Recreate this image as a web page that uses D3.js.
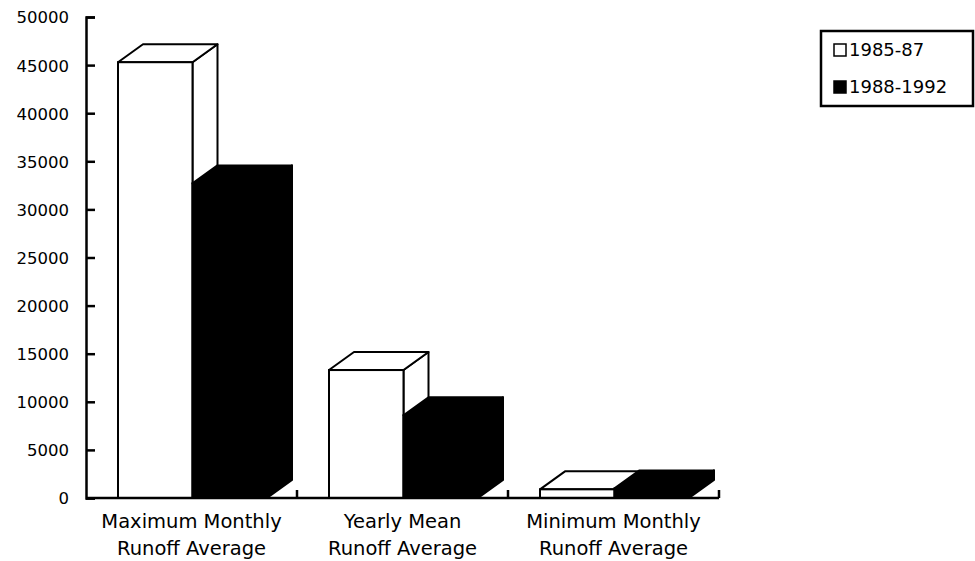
<!DOCTYPE html>
<html lang="en">
<head>
<meta charset="utf-8">
<title>Runoff Average</title>
<script src="https://d3js.org/d3.v7.min.js"></script>
<style>
  html, body { margin: 0; padding: 0; background: #fff; }
  svg text { font-family: "DejaVu Sans", sans-serif; fill: #000; }
</style>
</head>
<body>
<div id="chart"></div>
<script>
// chart data
var categories = [["Maximum Monthly", "Runoff Average"], ["Yearly Mean", "Runoff Average"], ["Minimum Monthly", "Runoff Average"]];
var series = ["1985-87", "1988-1992"];
var values1985 = [45300, 13300, 900];
var values1988 = [32700, 8600, 1000];
var yTicks = [0, 5000, 10000, 15000, 20000, 25000, 30000, 35000, 40000, 45000, 50000];

var w = 975, h = 561;
var plotLeft = 86, plotRight = 719, plotTop = 17, plotBottom = 498;
var depthX = 25, depthY = 18;
var fills = ["#fff", "#000"];

var svg = d3.select("#chart").append("svg")
  .attr("width", w)
  .attr("height", h);

var catNames = categories.map(function(c) { return c.join(" "); });

var x0 = d3.scaleBand()
  .domain(catNames)
  .range([plotLeft, plotRight]);

var x1 = d3.scaleBand()
  .domain(series)
  .range([32, 32 + 149]);

var y = d3.scaleLinear()
  .domain([0, 50000])
  .range([plotBottom, plotTop]);

// y axis
var yAxis = d3.axisLeft(y)
  .tickValues(yTicks)
  .tickSize(-9)
  .tickPadding(17)
  .tickFormat(d3.format("d"));

var gy = svg.append("g")
  .attr("transform", "translate(" + plotLeft + ",0)")
  .call(yAxis);
gy.select(".domain").attr("stroke", "#000").attr("stroke-width", 2.5);
gy.selectAll(".tick line").attr("stroke", "#000").attr("stroke-width", 2.5);
gy.selectAll(".tick text").style("font-size", "16.5px").attr("dy", "0.36em");

// bars
var bars = [];
catNames.forEach(function(c, i) {
  bars.push({ cat: c, s: 0, v: values1985[i] });
  bars.push({ cat: c, s: 1, v: values1988[i] });
});

var bw = x1.bandwidth();

function topFace(d) {
  var x = x0(d.cat) + x1(series[d.s]), yy = y(d.v);
  return "M" + x + "," + yy + "L" + (x + depthX) + "," + (yy - depthY) +
    "L" + (x + bw + depthX) + "," + (yy - depthY) + "L" + (x + bw) + "," + yy + "Z";
}
function sideFace(d) {
  var x = x0(d.cat) + x1(series[d.s]) + bw, yy = y(d.v);
  return "M" + x + "," + yy + "L" + (x + depthX) + "," + (yy - depthY) +
    "L" + (x + depthX) + "," + (plotBottom - depthY) + "L" + x + "," + plotBottom + "Z";
}

var g = svg.append("g");
var bar = g.selectAll("g.bar")
  .data(bars)
  .enter()
  .append("g")
  .attr("class", "bar");

bar.append("path")
  .attr("d", sideFace)
  .attr("fill", function(d) { return fills[d.s]; })
  .attr("stroke", "#000")
  .attr("stroke-width", 2)
  .attr("stroke-linejoin", "round");

bar.append("path")
  .attr("d", topFace)
  .attr("fill", function(d) { return fills[d.s]; })
  .attr("stroke", "#000")
  .attr("stroke-width", 2)
  .attr("stroke-linejoin", "round");

bar.append("rect")
  .attr("x", function(d) { return x0(d.cat) + x1(series[d.s]); })
  .attr("y", function(d) { return y(d.v); })
  .attr("width", bw)
  .attr("height", function(d) { return plotBottom - y(d.v); })
  .attr("fill", function(d) { return fills[d.s]; })
  .attr("stroke", "#000")
  .attr("stroke-width", 2);

// x axis
svg.append("line")
  .attr("x1", plotLeft).attr("x2", plotRight)
  .attr("y1", plotBottom).attr("y2", plotBottom)
  .attr("stroke", "#000")
  .attr("stroke-width", 2.5);

svg.selectAll("line.xtick")
  .data(catNames)
  .enter()
  .append("line")
  .attr("class", "xtick")
  .attr("x1", function(d) { return x0(d) + x0.bandwidth(); })
  .attr("x2", function(d) { return x0(d) + x0.bandwidth(); })
  .attr("y1", plotBottom)
  .attr("y2", plotBottom - 8)
  .attr("stroke", "#000")
  .attr("stroke-width", 2.5);

var labels = svg.selectAll("text.cat")
  .data(categories)
  .enter()
  .append("text")
  .attr("class", "cat")
  .attr("text-anchor", "middle")
  .style("font-size", "19.5px");

labels.selectAll("tspan")
  .data(function(d, i) { return d.map(function(t) { return { t: t, i: i }; }); })
  .enter()
  .append("tspan")
  .attr("x", function(d) { return x0(catNames[d.i]) + x0.bandwidth() / 2; })
  .attr("y", function(d, j) { return 528 + j * 27; })
  .text(function(d) { return d.t; });

// legend
var legend = svg.append("g").attr("transform", "translate(821,31)");
legend.append("rect")
  .attr("width", 152)
  .attr("height", 75)
  .attr("fill", "#fff")
  .attr("stroke", "#000")
  .attr("stroke-width", 2.5);

var item = legend.selectAll("g.item")
  .data(series)
  .enter()
  .append("g")
  .attr("class", "item")
  .attr("transform", function(d, i) { return "translate(13," + (13 + i * 37) + ")"; });

item.append("rect")
  .attr("width", 12)
  .attr("height", 12)
  .attr("fill", function(d, i) { return fills[i]; })
  .attr("stroke", "#000")
  .attr("stroke-width", 1.5);

item.append("text")
  .attr("x", 15)
  .attr("y", 12)
  .style("font-size", "18px")
  .text(function(d) { return d; });
</script>
</body>
</html>
